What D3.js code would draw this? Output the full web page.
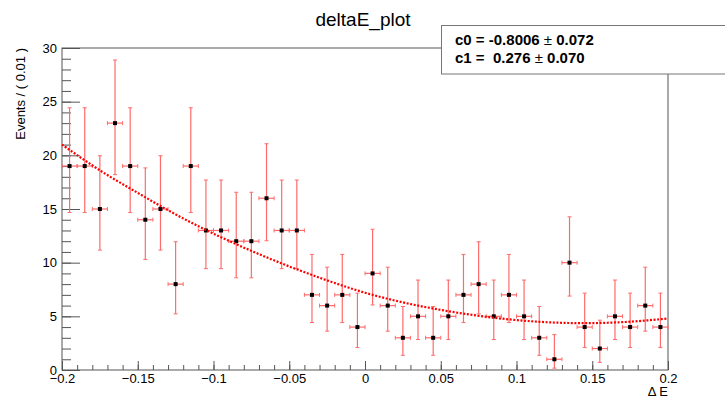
<!DOCTYPE html>
<html>
<head>
<meta charset="utf-8">
<script src="https://cdn.jsdelivr.net/npm/d3@7"></script>
<style>
  body { margin: 0; background: #fff; }
  svg { font-family: "Liberation Sans", Arial, sans-serif; }
</style>
</head>
<body>
<div id="chart"></div>
<script>
(function(){

// bin centres of deltaE (bin width 0.01)
var binCenters = [-0.195, -0.185, -0.175, -0.165, -0.155, -0.145, -0.135, -0.125, -0.115, -0.105,
                  -0.095, -0.085, -0.075, -0.065, -0.055, -0.045, -0.035, -0.025, -0.015, -0.005,
                   0.005,  0.015,  0.025,  0.035,  0.045,  0.055,  0.065,  0.075,  0.085,  0.095,
                   0.105,  0.115,  0.125,  0.135,  0.145,  0.155,  0.165,  0.175,  0.185,  0.195];
var counts = [19, 19, 15, 23, 19, 14, 15, 8, 19, 13,
              13, 12, 12, 16, 13, 13, 7, 6, 7, 4,
              9, 6, 3, 5, 3, 5, 7, 8, 5, 7,
              5, 3, 1, 10, 4, 2, 5, 4, 6, 4];

// asymmetric poisson errors, keyed by count
var errDown = {1: 0.83, 2: 1.29, 3: 1.63, 4: 1.91, 5: 2.16, 6: 2.38, 7: 2.58, 8: 2.77, 9: 2.94,
               10: 3.11, 12: 3.41, 13: 3.56, 14: 3.70, 15: 3.83, 16: 3.96, 19: 4.33, 23: 4.80};
var errUp   = {1: 2.30, 2: 2.64, 3: 2.92, 4: 3.16, 5: 3.38, 6: 3.58, 7: 3.77, 8: 3.95, 9: 4.11,
               10: 4.27, 12: 4.56, 13: 4.70, 14: 4.83, 15: 4.96, 16: 5.08, 19: 5.43, 23: 5.88};

// fitted curve
var fitX = [-0.2, -0.175, -0.15, -0.125, -0.1, -0.075, -0.05, -0.025, 0,
             0.025, 0.05, 0.075, 0.1, 0.125, 0.15, 0.175, 0.2];
var fitY = [21.0, 18.6, 16.5, 14.5, 12.7, 11.1, 9.65, 8.35, 7.2,
            6.3, 5.6, 5.05, 4.65, 4.42, 4.37, 4.5, 4.8];

var xTicks = [-0.2, -0.15, -0.1, -0.05, 0, 0.05, 0.1, 0.15, 0.2];
var yTicks = [0, 5, 10, 15, 20, 25, 30];
var statLines = [["c0 = -0.8006 ", "\u00b1", " 0.072"],
                 ["c1 = \u00a00.276 ", "\u00b1", " 0.070"]];

var W = 725, H = 400;
var left = 62, right = 668, top = 48, bottom = 370;
var binHalf = 0.005;

var svg = d3.select("#chart").append("svg")
    .attr("width", W).attr("height", H);

var x = d3.scaleLinear().domain([-0.2, 0.2]).range([left, right]);
var y = d3.scaleLinear().domain([0, 30]).range([bottom, top]);

var axisColor = "#555";

// minor ticks
svg.append("g")
   .attr("transform", "translate(" + left + ",0)")
   .call(d3.axisLeft(y).ticks(30).tickSize(-9).tickFormat(""))
   .call(function(g){ g.select(".domain").remove(); g.selectAll("line").attr("stroke", axisColor); });
svg.append("g")
   .attr("transform", "translate(0," + bottom + ")")
   .call(d3.axisBottom(x).ticks(40).tickSize(-5).tickFormat(""))
   .call(function(g){ g.select(".domain").remove(); g.selectAll("line").attr("stroke", axisColor); });

// major ticks + labels
svg.append("g")
   .attr("transform", "translate(" + left + ",0)")
   .call(d3.axisLeft(y).tickValues(yTicks).tickSize(-18).tickPadding(5).tickFormat(d3.format("d")))
   .call(function(g){
     g.select(".domain").remove();
     g.selectAll("line").attr("stroke", axisColor);
     g.selectAll("text").attr("font-size", 13).attr("fill", "#000")
      .attr("font-family", "'Liberation Sans', Arial, sans-serif");
   });
svg.append("g")
   .attr("transform", "translate(0," + bottom + ")")
   .call(d3.axisBottom(x).tickValues(xTicks).tickSize(-9).tickPadding(4).tickFormat(d3.format("")))
   .call(function(g){
     g.select(".domain").remove();
     g.selectAll("line").attr("stroke", axisColor);
     g.selectAll("text").attr("font-size", 13).attr("fill", "#000")
      .attr("font-family", "'Liberation Sans', Arial, sans-serif");
   });

// frame
svg.append("rect")
   .attr("x", left).attr("y", top)
   .attr("width", right - left).attr("height", bottom - top)
   .attr("fill", "none").attr("stroke", axisColor).attr("stroke-width", 1);

// error bars
var errColor = "#ff6b6b";
var pts = svg.append("g").selectAll("g")
    .data(binCenters.map(function(c, i){ return {x: c, n: counts[i]}; }))
    .enter().append("g");

pts.append("line")
   .attr("x1", function(d){ return x(d.x - binHalf); })
   .attr("x2", function(d){ return x(d.x + binHalf); })
   .attr("y1", function(d){ return y(d.n); })
   .attr("y2", function(d){ return y(d.n); })
   .attr("stroke", errColor).attr("stroke-width", 1.2);
pts.append("line")
   .attr("x1", function(d){ return x(d.x); })
   .attr("x2", function(d){ return x(d.x); })
   .attr("y1", function(d){ return y(d.n - errDown[d.n]); })
   .attr("y2", function(d){ return y(d.n + errUp[d.n]); })
   .attr("stroke", errColor).attr("stroke-width", 1.2);
// end caps
[-1, 1].forEach(function(s){
  pts.append("line")
     .attr("x1", function(d){ return x(d.x + s * binHalf); })
     .attr("x2", function(d){ return x(d.x + s * binHalf); })
     .attr("y1", function(d){ return y(d.n) - 2; })
     .attr("y2", function(d){ return y(d.n) + 2; })
     .attr("stroke", errColor).attr("stroke-width", 1);
  pts.append("line")
     .attr("x1", function(d){ return x(d.x) - 2; })
     .attr("x2", function(d){ return x(d.x) + 2; })
     .attr("y1", function(d){ return s < 0 ? y(d.n - errDown[d.n]) : y(d.n + errUp[d.n]); })
     .attr("y2", function(d){ return s < 0 ? y(d.n - errDown[d.n]) : y(d.n + errUp[d.n]); })
     .attr("stroke", errColor).attr("stroke-width", 1);
});

// fit curve
var line = d3.line()
    .x(function(d){ return x(d[0]); })
    .y(function(d){ return y(d[1]); })
    .curve(d3.curveCatmullRom);
svg.append("path")
   .datum(fitX.map(function(v, i){ return [v, fitY[i]]; }))
   .attr("d", line)
   .attr("fill", "none")
   .attr("stroke", "#ff0000")
   .attr("stroke-width", 2.2)
   .attr("stroke-dasharray", "2,1.6");

// markers
pts.append("rect")
   .attr("x", function(d){ return x(d.x) - 2; })
   .attr("y", function(d){ return y(d.n) - 2; })
   .attr("width", 4).attr("height", 4)
   .attr("fill", "#000");

// title
svg.append("text")
   .attr("x", 363).attr("y", 26)
   .attr("text-anchor", "middle")
   .attr("font-size", 19)
   .text("deltaE_plot");

// axis titles
svg.append("text")
   .attr("transform", "translate(25," + top + ") rotate(-90)")
   .attr("text-anchor", "end")
   .attr("font-size", 13)
   .text("Events / ( 0.01 )");
svg.append("text")
   .attr("x", right).attr("y", 396)
   .attr("text-anchor", "end")
   .attr("font-size", 13)
   .text("\u0394 E");

// stats box
svg.append("rect")
   .attr("x", 441.5).attr("y", 25.5)
   .attr("width", 300).attr("height", 48.5)
   .attr("fill", "#fff").attr("stroke", "#777");
statLines.forEach(function(parts, i){
  var t = svg.append("text")
     .attr("x", 455).attr("y", 44.5 + i * 18.5)
     .attr("font-size", 15).attr("font-weight", "bold");
  t.append("tspan").text(parts[0]);
  t.append("tspan").attr("font-weight", "normal").text(parts[1]);
  t.append("tspan").text(parts[2]);
});

})()
</script>
</body>
</html>
